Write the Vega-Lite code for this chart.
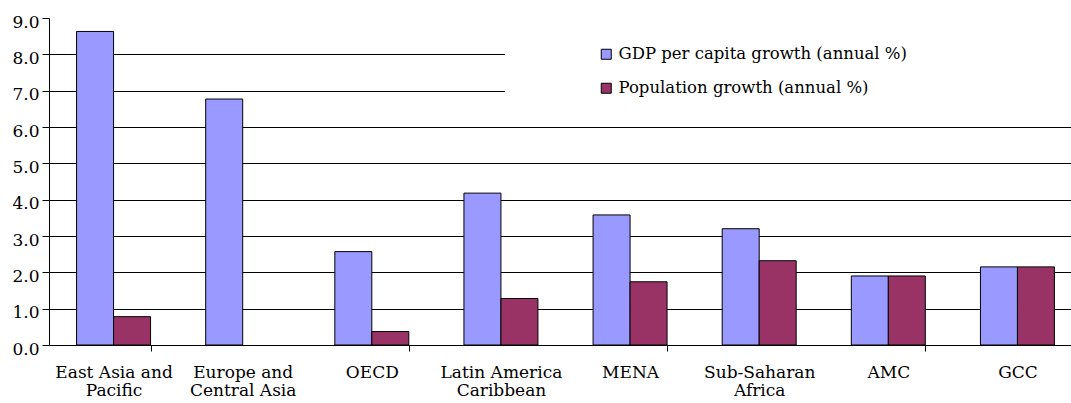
{
  "$schema": "https://vega.github.io/schema/vega-lite/v6.json",
  "width": 1033,
  "height": 327,
  "autosize": {"type": "none"},
  "padding": {"left": 49, "top": 18, "right": -11, "bottom": 58},
  "background": "white",
  "config": {
    "view": {"stroke": null},
    "font": "DejaVu Serif",
    "axis": {"labelFont": "DejaVu Serif"},
    "legend": {"labelFont": "DejaVu Serif", "titleFont": "DejaVu Serif"}
  },
  "data": {
    "values": [
      {"region": "East Asia and|Pacific", "series": "GDP per capita growth (annual %)", "value": 8.63},
      {"region": "East Asia and|Pacific", "series": "Population growth (annual %)", "value": 0.78},
      {"region": "Europe and|Central Asia", "series": "GDP per capita growth (annual %)", "value": 6.77},
      {"region": "OECD", "series": "GDP per capita growth (annual %)", "value": 2.57},
      {"region": "OECD", "series": "Population growth (annual %)", "value": 0.37},
      {"region": "Latin America|Caribbean", "series": "GDP per capita growth (annual %)", "value": 4.18},
      {"region": "Latin America|Caribbean", "series": "Population growth (annual %)", "value": 1.28},
      {"region": "MENA", "series": "GDP per capita growth (annual %)", "value": 3.58},
      {"region": "MENA", "series": "Population growth (annual %)", "value": 1.74},
      {"region": "Sub-Saharan|Africa", "series": "GDP per capita growth (annual %)", "value": 3.2},
      {"region": "Sub-Saharan|Africa", "series": "Population growth (annual %)", "value": 2.32},
      {"region": "AMC", "series": "GDP per capita growth (annual %)", "value": 1.9},
      {"region": "AMC", "series": "Population growth (annual %)", "value": 1.9},
      {"region": "GCC", "series": "GDP per capita growth (annual %)", "value": 2.15},
      {"region": "GCC", "series": "Population growth (annual %)", "value": 2.15}
    ]
  },
  "mark": {"type": "bar", "stroke": "black", "strokeWidth": 1},
  "encoding": {
    "x": {
      "field": "region",
      "type": "nominal",
      "sort": null,
      "scale": {"paddingInner": 0.427, "paddingOuter": 0.2135},
      "axis": {
        "title": null,
        "labelAngle": 0,
        "labelExpr": "split(datum.label, '|')",
        "labelFontSize": 17,
        "labelColor": "black",
        "labelLineHeight": 18.5,
        "labelPadding": 13,
        "labelLimit": 0,
        "tickSize": 6,
        "tickColor": "black",
        "tickBand": "extent",
        "tickOpacity": {"condition": {"test": "indexof(['East Asia and|Pacific','OECD','MENA','AMC'], datum.value) >= 0", "value": 1}, "value": 0},
        "domainColor": "black",
        "grid": false
      }
    },
    "xOffset": {
      "field": "series",
      "type": "nominal",
      "sort": ["GDP per capita growth (annual %)", "Population growth (annual %)"],
      "scale": {"paddingInner": 0, "paddingOuter": 0}
    },
    "y": {
      "field": "value",
      "type": "quantitative",
      "scale": {"domain": [0, 9], "nice": false},
      "axis": {
        "title": null,
        "values": [0, 1, 2, 3, 4, 5, 6, 7, 8, 9],
        "format": ".1f",
        "labelFontSize": 17,
        "labelColor": "black",
        "labelPadding": 3,
        "labelOffset": 4,
        "tickSize": 7,
        "tickColor": "black",
        "domainColor": "black",
        "grid": true,
        "gridColor": "black",
        "gridOpacity": {"condition": {"test": "datum.value == 9 || datum.value == 0", "value": 0}, "value": 1}
      }
    },
    "color": {
      "field": "series",
      "type": "nominal",
      "scale": {"domain": ["GDP per capita growth (annual %)", "Population growth (annual %)"], "range": ["#9999FF", "#993366"]},
      "legend": {
        "title": "\u00a0",
        "titleOrient": "right",
        "titlePadding": 170,
        "titleFontSize": 20,
        "orient": "none",
        "legendX": 456,
        "legendY": 20,
        "fillColor": "white",
        "padding": 8,
        "symbolOffset": 85,
        "symbolType": "square",
        "symbolSize": 100,
        "symbolStrokeColor": "black",
        "symbolStrokeWidth": 1,
        "labelFontSize": 16.5,
        "labelColor": "black",
        "labelOffset": 4,
        "labelLimit": 0,
        "rowPadding": 17
      }
    }
  }
}
